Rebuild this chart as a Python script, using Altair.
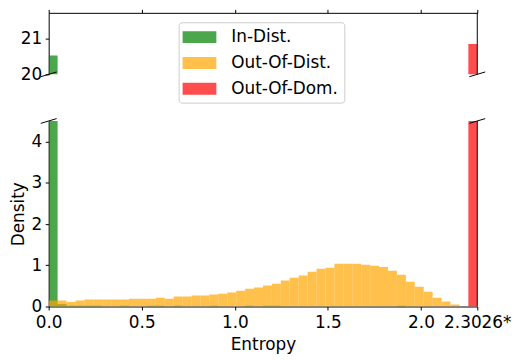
import altair as alt
import pandas as pd

LN10 = 2.302585
N_BINS = 48
series_names = ["In-Dist.", "Out-Of-Dist.", "Out-Of-Dom."]
series_colors = ["#008000", "#FFA500", "#FF0000"]

in_dist = [20.52, 0.06, 0.02, 0.02, 0.02, 0.02, 0, 0, 0.02, 0, 0, 0.02,
           0.02, 0, 0.02, 0, 0, 0, 0.02, 0, 0, 0, 0.02, 0,
           0.02, 0.02, 0, 0, 0, 0, 0, 0, 0, 0, 0, 0,
           0, 0, 0, 0.02, 0, 0, 0, 0, 0, 0, 0, 0]
out_dist = [0.145, 0.145, 0.11, 0.145, 0.17, 0.17, 0.17, 0.17, 0.17, 0.19, 0.19, 0.19,
            0.215, 0.19, 0.24, 0.24, 0.265, 0.265, 0.29, 0.31, 0.34, 0.385, 0.43, 0.46,
            0.51, 0.55, 0.63, 0.70, 0.75, 0.84, 0.915, 0.94, 1.035, 1.035, 1.035, 1.01,
            0.99, 0.96, 0.87, 0.77, 0.60, 0.48, 0.36, 0.215, 0.12, 0.05, 0, 0]
out_dom = [0] * 47 + [20.84]

x_ticks = [0, 0.5, 1.0, 1.5, 2.0, LN10]
top_y_ticks = [20, 21]
bottom_y_ticks = [0, 1, 2, 3, 4]

rows = []
for name, vals in zip(series_names, [in_dist, out_dist, out_dom]):
    for i, v in enumerate(vals):
        if v > 0:
            rows.append({"series": name, "x0": i * LN10 / N_BINS,
                         "x1": (i + 1) * LN10 / N_BINS, "density": v, "base": 0})
df = pd.DataFrame(rows)

W = 432
H1 = 62
H2 = 187
FONT = "DejaVu Sans"
FS = 17

xscale = alt.Scale(domain=[0, LN10], nice=False, zero=False)
cscale = alt.Scale(domain=series_names, range=series_colors)

legend = alt.Legend(
    orient="none", legendX=131, legendY=9.5, title=None,
    symbolType="M-1.889,-0.667L1.889,-0.667L1.889,0.667L-1.889,0.667Z",
    symbolSize=324, symbolStrokeWidth=0, symbolOffset=6, symbolOpacity=0.7,
    labelOffset=23, rowPadding=9, padding=6,
    strokeColor="#cccccc", cornerRadius=3, fillColor="white",
    labelFont=FONT, labelFontSize=FS, labelColor="black", labelLimit=0,
)


def bars(yscale, yaxis, xaxis, leg):
    return alt.Chart(df).mark_bar(opacity=0.7, clip=True, strokeWidth=0).encode(
        x=alt.X("x0:Q", scale=xscale, axis=xaxis),
        x2="x1:Q",
        y=alt.Y("density:Q", scale=yscale, axis=yaxis, stack=None),
        y2="base:Q",
        color=alt.Color("series:N", scale=cscale, legend=leg),
    )


def rule(x1, x2, y1, y2, w=1):
    return alt.Chart(pd.DataFrame({"k": [0]})).mark_rule(color="black", strokeWidth=w).encode(
        x=alt.value(x1), x2=alt.value(x2), y=alt.value(y1), y2=alt.value(y2))


top_bars = bars(
    alt.Scale(domain=[20, 21.7], nice=False, zero=False),
    alt.Axis(values=top_y_ticks, title=None, format="d"),
    alt.Axis(orient="top", values=x_ticks, labels=False, title=None),
    legend,
)
top = alt.layer(
    top_bars,
    rule(W, W, 0, H1),
    rule(-8, 8, H1 + 2.4, H1 - 2.4),
    rule(W - 8, W + 8, H1 + 2.4, H1 - 2.4),
).properties(width=W, height=H1)

bottom_bars = bars(
    alt.Scale(domain=[0, 4.5], nice=False, zero=False),
    alt.Axis(values=bottom_y_ticks, title="Density", format="d", titlePadding=4),
    alt.Axis(values=x_ticks, title="Entropy", labelOverlap=False, labelFlush=False,
             labelExpr="datum.value > 2.2 ? '2.3026*' : format(datum.value, '.1f')",
             labelPadding=4.5, titlePadding=6),
    None,
)
bottom = alt.layer(
    bottom_bars,
    rule(W, W, 0, H2),
    rule(-8, 8, 2.4, -2.4),
    rule(W - 8, W + 8, 2.4, -2.4),
).properties(width=W, height=H2)

chart = alt.vconcat(top, bottom, spacing=47, bounds="flush").resolve_legend(color="independent").properties(
    padding={"left": 0, "top": -1.5, "right": 0, "bottom": 0}
).configure_axis(
    labelFont=FONT, labelFontSize=FS, labelColor="black",
    titleFont=FONT, titleFontSize=FS, titleFontWeight="normal", titleColor="black",
    domainColor="black", tickColor="black", tickSize=3.5, grid=False,
    domainWidth=1, tickWidth=1, labelPadding=3.5,
).configure_view(stroke="transparent")

chart.save("out.html", embed_options={"renderer": "svg", "actions": False})
